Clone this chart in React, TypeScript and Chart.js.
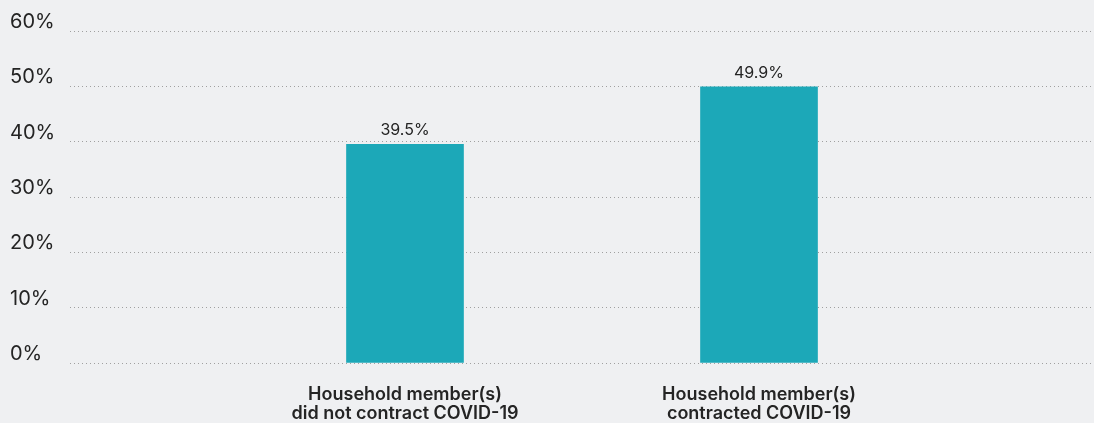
import React, { useEffect, useRef } from "react";
import { Chart, registerables } from "chart.js";

Chart.register(...registerables);

const categories: string[][] = [
  ["Household member(s)", "did not contract COVID-19"],
  ["Household member(s)", "contracted COVID-19"],
];
const positions = [0, 1];
const values = [39.5, 49.9];
const yTicks = [0, 10, 20, 30, 40, 50, 60];

const BG = "#eff0f2";
const BAR = "#1ca8b8";
const TEXT = "#242424";
const FONT = "Inter, 'Open Sans', sans-serif";

const valueLabels = {
  id: "valueLabels",
  afterDatasetsDraw(chart: any) {
    const ctx = chart.ctx;
    const meta = chart.getDatasetMeta(0);
    ctx.save();
    ctx.font = `16px ${FONT}`;
    ctx.fillStyle = TEXT;
    ctx.textAlign = "center";
    ctx.textBaseline = "bottom";
    meta.data.forEach((el: any, i: number) => {
      ctx.fillText(values[i].toFixed(1) + "%", el.x, el.y - 6);
    });
    ctx.restore();
  },
};

const bgPlugin = {
  id: "bg",
  beforeDraw(chart: any) {
    const ctx = chart.ctx;
    ctx.save();
    ctx.fillStyle = BG;
    ctx.fillRect(0, 0, chart.width, chart.height);
    ctx.restore();
  },
};

export default function App() {
  const ref = useRef<HTMLCanvasElement>(null);
  useEffect(() => {
    document.body.style.margin = "0";
    document.body.style.background = BG;
    const chart = new Chart(ref.current!, {
      type: "bar",
      data: {
        datasets: [
          {
            data: positions.map((p, i) => ({ x: p, y: values[i] })),
            backgroundColor: BAR,
            barThickness: 117,
          },
        ],
      },
      options: {
        animation: false,
        responsive: false,
        layout: { padding: { top: 31, left: 10, right: 0, bottom: 0 } },
        plugins: { legend: { display: false }, tooltip: { enabled: false } },
        scales: {
          x: {
            type: "linear",
            offset: false,
            min: -0.9463,
            max: 1.9463,
            grid: { display: false },
            border: { display: false },
            afterBuildTicks: (scale: any) => {
              scale.ticks = positions.map((p) => ({ value: p }));
            },
            afterFit: (scale: any) => {
              scale.height = 60;
            },
            ticks: {
              autoSkip: false,
              maxRotation: 0,
              padding: 14,
              color: TEXT,
              font: { family: FONT, size: 18, weight: "600", lineHeight: 1.05 },
              callback: (_v: any, i: number) => categories[i],
            },
          },
          y: {
            min: 0,
            max: 60,
            afterBuildTicks: (scale: any) => {
              scale.ticks = yTicks.map((v) => ({ value: v }));
            },
            afterFit: (scale: any) => {
              scale.width = 60;
            },
            grid: { color: "#a0a0a0", lineWidth: 1, drawTicks: false },
            border: { display: false, dash: [1, 3] },
            ticks: {
              crossAlign: "far",
              labelOffset: -9,
              padding: 0,
              color: TEXT,
              font: { family: FONT, size: 20 },
              callback: (v: any) => v + "%",
            },
          },
        },
      },
      plugins: [bgPlugin, valueLabels],
    } as any);
    return () => chart.destroy();
  }, []);
  return (
    <div style={{ width: 1094, height: 423, background: BG }}>
      <canvas ref={ref} width={1094} height={423} style={{ display: "block" }} />
    </div>
  );
}
